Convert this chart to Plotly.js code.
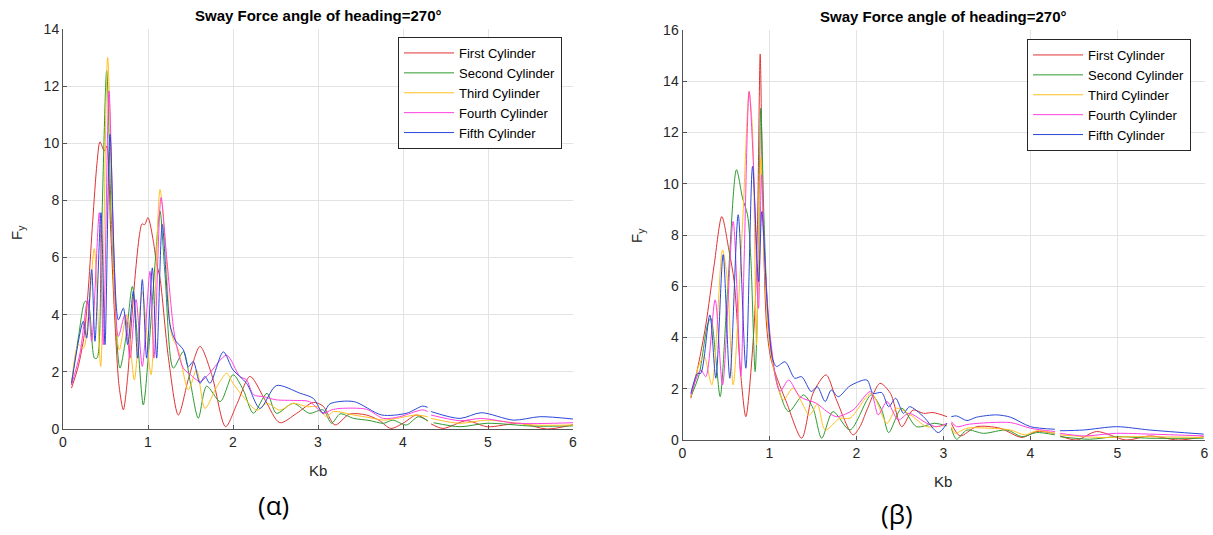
<!DOCTYPE html>
<html>
<head>
<meta charset="utf-8">
<script src="https://cdn.plot.ly/plotly-3.0.1.min.js"></script>
<style>html,body{margin:0;padding:0;background:#fff;}#chart{width:1213px;height:535px;}</style>
</head>
<body>
<div id="chart"></div>
<script>
// ---------- Data ----------
const seriesNames = ["First Cylinder", "Second Cylinder", "Third Cylinder", "Fourth Cylinder", "Fifth Cylinder"];
const xTicks = [0, 1, 2, 3, 4, 5, 6];

// Chart (α) – heading 270°
const aRedX = [0.10,0.18,0.25,0.30,0.35,0.40,0.435,0.486,0.515,0.56,0.61,0.66,0.71,0.76,0.80,0.85,0.90,0.93,0.96,1.0,1.063,1.10,1.14,1.24,1.357,1.48,1.612,1.75,1.913,2.05,2.2,2.38,2.55,2.75,2.945,3.06,3.2,3.37,3.57,3.72,3.855,4.0,4.16,4.29,4.31,4.33,4.47,4.75,4.99,5.38,5.69,6.0];
const aRedY = [1.43,2.2,3.3,5.0,7.3,9.3,10.05,9.73,9.9,7.0,3.8,1.5,0.67,1.8,3.5,5.4,6.8,7.18,7.15,7.4,6.57,5.8,5.3,2.5,0.49,1.8,2.89,1.9,0.08,0.9,1.84,1.0,0.22,0.55,0.93,0.8,0.14,0.52,0.49,0.3,0.02,0.2,0.49,0.28,null,0.18,0.02,0.29,0.08,0.2,0.0,0.15];

const aGreenX = [0.10,0.18,0.26,0.30,0.37,0.40,0.45,0.514,0.572,0.67,0.74,0.816,0.88,0.945,1.02,1.082,1.141,1.2,1.298,1.416,1.5,1.592,1.69,1.85,2.0,2.12,2.24,2.4,2.51,2.71,2.9,3.06,3.16,3.26,3.42,3.6,3.77,3.88,4.04,4.18,4.29,4.31,4.36,4.67,4.99,5.53,6.0];
const aGreenY = [1.6,3.18,4.47,4.35,2.48,2.48,6.5,12.54,7.16,2.13,3.2,4.99,3.0,0.84,3.2,5.75,7.63,5.4,2.13,2.71,1.6,0.38,1.5,0.96,1.9,1.37,0.55,1.25,0.55,0.9,0.55,0.67,0.2,0.53,0.37,0.3,0.2,0.31,0.14,0.43,0.29,null,0.22,0.08,0.2,0.1,0.11];

const aOrangeX = [0.10,0.18,0.24,0.30,0.368,0.443,0.525,0.612,0.663,0.749,0.839,0.933,1.035,1.141,1.2,1.278,1.357,1.475,1.572,1.67,1.81,1.925,2.0,2.12,2.28,2.4,2.55,2.71,2.87,2.99,3.1,3.18,3.42,3.6,3.77,3.92,4.16,4.29,4.31,4.33,4.67,4.99,5.53,6.0];
const aOrangeY = [1.54,2.95,2.83,4.0,6.31,2.19,13.0,4.23,2.77,4.0,1.72,4.82,1.9,8.38,6.69,3.3,2.77,1.37,2.07,0.72,1.48,1.95,1.6,1.13,0.66,0.9,0.66,0.9,0.78,0.78,0.43,0.61,0.49,0.4,0.31,0.37,0.49,0.43,null,0.37,0.2,0.31,0.14,0.14];

const aPinkX = [0.10,0.20,0.29,0.337,0.427,0.474,0.541,0.60,0.651,0.729,0.788,0.859,0.933,1.023,1.07,1.153,1.22,1.318,1.416,1.5,1.61,1.71,1.925,2.08,2.16,2.24,2.36,2.51,2.71,2.9,3.06,3.16,3.26,3.57,3.77,3.96,4.23,4.29,4.31,4.33,4.67,4.92,5.34,6.0];
const aPinkY = [1.54,2.65,4.53,3.07,7.57,2.95,11.83,6.0,3.24,4.0,2.48,4.53,2.19,5.52,2.48,8.1,5.99,3.18,2.13,1.9,1.66,1.9,2.58,1.84,1.72,1.2,1.13,1.02,1.0,0.96,0.55,0.67,0.72,0.69,0.37,0.43,0.67,0.61,null,0.49,0.29,0.37,0.2,0.22];

const aBlueX = [0.10,0.239,0.278,0.337,0.376,0.447,0.494,0.553,0.651,0.71,0.761,0.827,0.878,0.933,0.984,1.051,1.102,1.168,1.259,1.318,1.416,1.475,1.533,1.611,1.67,1.729,1.886,2.0,2.16,2.318,2.51,2.79,2.945,3.06,3.14,3.42,3.75,4.04,4.23,4.29,4.31,4.33,4.67,4.92,5.3,5.61,6.0];
const aBlueY = [1.6,3.77,3.18,5.58,3.07,7.57,2.95,10.31,3.82,4.23,2.95,4.82,2.48,5.23,2.48,5.64,2.48,7.16,3.65,3.12,2.77,2.18,2.36,1.6,1.84,1.6,2.7,2.07,1.6,0.72,1.52,1.25,1.07,0.55,0.88,0.96,0.49,0.55,0.8,0.76,null,0.61,0.37,0.57,0.31,0.43,0.35];

// Chart (β)
const bRedX = [0.096,0.18,0.268,0.364,0.452,0.536,0.594,0.67,0.728,0.824,0.862,0.893,0.92,0.966,1.015,1.08,1.2,1.37,1.5,1.65,1.77,1.96,2.04,2.12,2.27,2.39,2.52,2.65,2.77,2.88,3.04,3.065,3.09,3.19,3.38,3.65,3.9,4.07,4.28,4.31,4.34,4.53,4.76,5.1,5.37,5.7,5.99];
const bRedY = [1.63,2.9,4.49,6.83,8.72,7.36,6.18,2.54,0.91,4.49,8.4,15.06,9.7,4.49,3.19,2.48,1.43,0.07,1.82,2.54,1.56,0.2,0.52,1.17,2.21,1.82,0.52,1.17,1.04,1.07,0.91,null,0.65,0.16,0.52,0.46,0.1,0.33,0.26,null,0.16,0.0,0.33,0.0,0.16,0.0,0.13];

const bGreenX = [0.096,0.19,0.287,0.326,0.383,0.433,0.517,0.621,0.69,0.747,0.785,0.835,0.874,0.9,0.939,0.989,1.073,1.22,1.39,1.5,1.6,1.73,1.925,2.17,2.29,2.37,2.52,2.69,2.9,3.04,3.065,3.09,3.15,3.27,3.46,3.73,3.9,4.07,4.28,4.31,4.34,4.68,4.99,5.37,5.99];
const bGreenY = [1.69,2.54,4.49,4.75,3.19,1.69,5.79,10.55,9.44,8.79,7.1,2.67,7.1,12.95,8.4,4.49,2.41,1.11,1.76,1.24,0.07,1.11,0.39,1.76,1.17,0.29,1.24,0.52,0.65,0.55,null,0.46,0.03,0.39,0.26,0.39,0.13,0.29,0.2,null,0.13,0.03,0.13,0.07,0.07];

const bOrangeX = [0.096,0.19,0.25,0.337,0.46,0.517,0.582,0.69,0.766,0.805,0.851,0.9,0.939,0.996,1.09,1.16,1.27,1.46,1.55,1.64,1.81,1.925,2.17,2.35,2.46,2.62,2.81,3.04,3.065,3.09,3.13,3.27,3.53,3.77,3.94,4.07,4.28,4.31,4.34,4.8,5.18,5.99];
const bOrangeY = [1.69,2.93,3.25,2.15,7.42,6.18,2.15,8.4,13.6,12.04,3.71,11.0,7.1,3.84,2.15,1.56,2.02,0.98,1.4,0.39,0.85,0.85,1.82,0.65,1.24,0.98,0.52,0.59,null,0.52,0.26,0.46,0.46,0.39,0.2,0.36,0.26,null,0.2,0.1,0.13,0.1];

const bPinkX = [0.096,0.21,0.268,0.375,0.46,0.582,0.67,0.709,0.766,0.812,0.874,0.908,0.946,1.015,1.12,1.22,1.35,1.54,1.66,1.77,1.96,2.16,2.25,2.35,2.48,2.6,2.81,2.92,3.04,3.065,3.09,3.15,3.3,3.77,4.0,4.28,4.31,4.34,4.61,4.99,5.37,5.99];
const bPinkY = [1.76,2.73,2.47,5.47,2.15,8.53,2.5,7.1,13.6,11.0,5.14,10.35,7.1,3.84,1.9,2.34,1.69,1.43,1.11,0.91,1.17,1.89,0.98,1.5,0.78,1.04,0.65,0.52,0.65,null,0.72,0.52,0.62,0.68,0.46,0.33,null,0.26,0.16,0.26,0.23,0.16];

const bBlueX = [0.096,0.172,0.21,0.314,0.383,0.467,0.544,0.64,0.728,0.805,0.874,0.912,0.977,1.034,1.08,1.18,1.29,1.37,1.48,1.55,1.64,1.71,1.79,1.925,2.12,2.19,2.29,2.37,2.45,2.54,2.61,2.77,2.94,3.04,3.065,3.09,3.15,3.27,3.38,3.61,3.77,4.0,4.28,4.31,4.34,4.61,4.99,5.37,5.99];
const bBlueY = [1.82,2.6,2.6,4.88,2.41,7.23,2.41,8.79,2.8,10.68,6.18,8.92,5.14,3.19,2.87,3.05,2.41,2.47,1.89,2.08,1.5,1.95,1.69,2.11,2.34,1.82,1.85,1.3,1.63,1.04,1.3,0.91,0.29,0.65,null,0.91,0.94,0.76,0.89,0.98,0.89,0.52,0.42,null,0.36,0.39,0.52,0.39,0.23];

// ---------- Styling ----------
const colors = ["#e03232", "#2e9a2e", "#ffc020", "#ff40e0", "#2a48d8"];
const FONT = "Liberation Sans, Arial, sans-serif";
const TXT = "#262626";

const aSets = [[aRedX,aRedY],[aGreenX,aGreenY],[aOrangeX,aOrangeY],[aPinkX,aPinkY],[aBlueX,aBlueY]];
const bSets = [[bRedX,bRedY],[bGreenX,bGreenY],[bOrangeX,bOrangeY],[bPinkX,bPinkY],[bBlueX,bBlueY]];

const traces = [];
aSets.forEach((s, i) => traces.push({
  x: s[0], y: s[1], type: "scatter", mode: "lines", name: seriesNames[i],
  line: {color: colors[i], width: 1, shape: "spline", smoothing: 0.8},
  connectgaps: false, xaxis: "x", yaxis: "y", legend: "legend"
}));
bSets.forEach((s, i) => traces.push({
  x: s[0], y: s[1], type: "scatter", mode: "lines", name: seriesNames[i],
  line: {color: colors[i], width: 1, shape: "spline", smoothing: 0.8},
  connectgaps: false, xaxis: "x2", yaxis: "y2", legend: "legend2"
}));

const W = 1213, H = 535;
function axisX(domain, anchor) {
  return {
    domain: domain, anchor: anchor, range: [0, 6], tickvals: xTicks,
    showgrid: true, gridcolor: "#e3e3e3", gridwidth: 1, zeroline: false,
    showline: true, linecolor: "#555", linewidth: 1, mirror: false,
    ticks: "inside", ticklen: 4, tickcolor: "#555",
    tickfont: {family: FONT, size: 14, color: TXT}, fixedrange: true
  };
}
function axisY(domain, anchor, max) {
  return {
    domain: domain, anchor: anchor, range: [0, max], dtick: 2,
    showgrid: true, gridcolor: "#e3e3e3", gridwidth: 1, zeroline: false,
    showline: true, linecolor: "#555", linewidth: 1,
    ticks: "inside", ticklen: 4, tickcolor: "#555",
    tickfont: {family: FONT, size: 14, color: TXT}, fixedrange: true
  };
}
function legendAt(xr, yt) {
  return {
    x: xr / W, xanchor: "right", y: 1 - yt / H, yanchor: "top",
    bgcolor: "#fff", bordercolor: "#262626", borderwidth: 1, itemwidth: 50,
    font: {family: FONT, size: 13, color: "#000"}, tracegroupgap: 0
  };
}
function ann(text, px, py, size, extra) {
  return Object.assign({
    text: text, x: px / W, y: 1 - py / H, xref: "paper", yref: "paper",
    xanchor: "center", yanchor: "middle", showarrow: false,
    font: {family: FONT, size: size, color: TXT}
  }, extra || {});
}

const layout = {
  width: W, height: H, margin: {l: 0, r: 0, t: 0, b: 0},
  paper_bgcolor: "#fff", plot_bgcolor: "#fff", showlegend: true,
  xaxis: axisX([63 / W, 573 / W], "y"),
  yaxis: axisY([1 - 429 / H, 1 - 29 / H], "x", 14),
  xaxis2: axisX([682.5 / W, 1204.5 / W], "y2"),
  yaxis2: axisY([1 - 440 / H, 1 - 30 / H], "x2", 16),
  legend: legendAt(562, 37),
  legend2: legendAt(1191, 39),
  annotations: [
    ann("<b>Sway Force angle of heading=270°</b>", 318, 15, 15, {font: {family: FONT, size: 15, color: "#000"}}),
    ann("<b>Sway Force angle of heading=270°</b>", 943, 16, 15, {font: {family: FONT, size: 15, color: "#000"}}),
    ann("Kb", 318, 470, 15),
    ann("Kb", 943, 481, 15),
    ann("F<sub>y</sub>", 17, 233, 15, {textangle: -90}),
    ann("F<sub>y</sub>", 638, 236, 15, {textangle: -90}),
    ann("(α)", 273, 505, 26, {font: {family: "Open Sans, Noto Sans, sans-serif", size: 26, color: "#000"}}),
    ann("(β)", 897, 514, 26, {font: {family: "Open Sans, Noto Sans, sans-serif", size: 26, color: "#000"}})
  ]
};

Plotly.newPlot("chart", traces, layout, {staticPlot: true, displayModeBar: false});
</script>
</body>
</html>
